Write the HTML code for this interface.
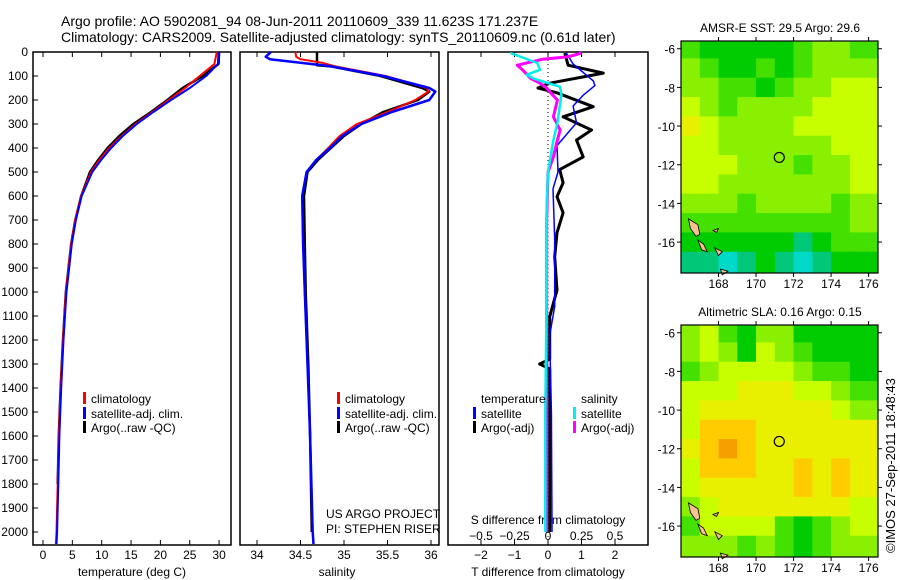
<!DOCTYPE html>
<html><head><meta charset="utf-8">
<style>
html,body{margin:0;padding:0;background:#fff;}
svg{display:block;font-family:"Liberation Sans",Arial,sans-serif;}
text{fill:#000;}
</style></head>
<body>
<svg id="chart" width="900" height="580" viewBox="0 0 900 580" xmlns="http://www.w3.org/2000/svg">
<text x="61" y="26" font-size="14">Argo profile: AO 5902081_94 08-Jun-2011 20110609_339 11.623S 171.237E</text>
<text x="61" y="42" font-size="14">Climatology: CARS2009. Satellite-adjusted climatology: synTS_20110609.nc (0.61d later)</text>
<g id="g1"></g>
<g id="g2"></g>
<g id="g3"></g>
<g id="m1"></g>
<g id="m2"></g>
<text font-size="13" transform="translate(895,553) rotate(-90)">©IMOS 27-Sep-2011 18:48:43</text>
</svg>
<script>
// ---- profile data (depth m) ----
const tDepth=[0,50,100,150,200,250,300,350,400,450,500,600,700,800,1000,1200,1400,1600,1800,2000,2050];
const tClim=[29.6,29.2,26.7,24.2,21.4,18.6,15.8,13.4,11.3,9.6,8.2,6.5,5.5,4.8,3.9,3.4,3.0,2.7,2.5,2.3,2.2];
const tSat=[29.9,29.8,27.8,25.0,21.8,18.8,16.0,13.6,11.6,9.9,8.4,6.6,5.6,4.9,4.0,3.5,3.1,2.8,2.6,2.4,2.3];
const tArgo=[30.0,29.9,27.2,23.8,21.2,18.4,15.4,13.0,11.0,9.4,8.0,6.5,5.5,4.8,3.9,3.4,3.0,2.7,2.5];
const sDepth=[0,20,30,45,55,60,100,150,165,200,250,300,350,400,450,500,600,800,1000,1300,1600,2000,2050];
const sClim=[34.44,34.45,34.5,34.75,34.85,34.9,35.48,35.95,35.97,35.82,35.5,35.15,34.95,34.82,34.68,34.57,34.52,34.53,34.55,34.58,34.61,34.64,34.65];
const sSat=[34.16,34.1,34.15,34.5,34.75,34.85,35.45,35.98,36.05,35.98,35.55,35.2,34.98,34.84,34.68,34.57,34.52,34.53,34.55,34.58,34.61,34.64,34.65];
const sArgo=[34.69,34.69,34.69,34.69,34.69,34.85,35.42,35.9,35.98,35.85,35.45,35.2,35.0,34.85,34.7,34.58,34.54,34.55,34.56,34.59,34.61,34.63];
// ---- difference data ----
const dDepthA=[4,55,88,130,150,170,228,270,325,367,437,490,545,603,670,753,853,992,1103,1200,1280,1300,1320,1500,1800,2000];
const dTArgo=[0.5,0.6,1.65,0.05,-0.3,0.27,1.35,0.45,1.3,0.85,1.05,0.35,0.45,0.27,0.45,0.27,0.2,0.27,0.05,0.05,0.05,-0.25,0.05,0.05,0.05,0.05];
const dDepthB=[4,50,120,140,180,225,295,390,500,570,780,1060,1180,1500,2000];
const dTSat=[0.55,0.75,1.35,1.4,1.05,0.75,0.85,0.27,0.3,0.15,0.2,0.2,0.05,0.1,0.12];
const dDepthC=[4,46,74,95,110,145,180,295,367,500,645,1000,1500,2000];
const dSSat=[-0.28,-0.08,-0.06,-0.16,-0.11,0.09,0.1,0.07,0.04,0,-0.01,-0.01,-0.02,-0.02];
const dDepthD=[4,20,30,55,74,110,130,150,170,200,270,325,367,437,500,700,1000,1500,2000];
const dSArgo=[0.25,0.15,-0.04,-0.23,-0.19,-0.13,-0.06,-0.01,0.02,0.07,0.04,0.09,0.07,0.04,0,-0.01,-0.01,-0.01,-0.01];
// ---- axis ticks ----
const depthTicks=[0,100,200,300,400,500,600,700,800,900,1000,1100,1200,1300,1400,1500,1600,1700,1800,1900,2000];
const tTicks=[0,5,10,15,20,25,30];
const sTicks=[34,34.5,35,35.5,36];
const sTickLabels=["34","34.5","35","35.5","36"];
const dtTicks=[-2,-1,0,1,2];
const dsTicks=[-0.5,-0.25,0,0.25,0.5];
const dsTickLabels=["−0.5","−0.25","0","0.25","0.5"];
// ---- map data (rows = 1 deg lat from -6 to -17, cols = 1 deg lon from 166 to 176) ----
const lonTicks=[168,170,172,174,176];
const latTicks=[-6,-8,-10,-12,-14,-16];
const sstGrid=[
[3,2,2,2,2,2,3,4,4,3],
[4,3,2,2,3,2,3,4,4,4],
[4,4,3,3,2,3,4,4,5,5],
[5,4,3,4,4,4,4,5,5,5],
[6,5,4,4,4,4,5,5,5,5],
[5,5,4,4,4,4,4,4,5,5],
[5,5,5,4,4,4,3,4,4,5],
[5,5,4,4,4,4,4,4,4,5],
[4,4,4,3,4,4,4,4,3,4],
[3,3,3,3,3,3,3,3,3,4],
[2,2,2,2,2,2,1,2,3,3],
[1,1,0,1,2,1,0,1,2,2]];
const slaGrid=[
[4,5,3,2,4,4,2,2,2,2],
[4,5,4,2,5,4,3,2,2,2],
[3,4,5,5,5,5,4,3,3,2],
[5,5,5,6,6,6,5,5,4,3],
[5,6,6,6,6,6,6,6,5,4],
[5,7,7,7,6,6,6,6,6,6],
[6,7,8,7,6,6,6,6,6,6],
[5,7,7,7,6,6,7,6,7,6],
[5,6,6,6,6,6,7,6,7,6],
[4,5,6,6,6,6,6,6,6,5],
[3,5,5,5,5,3,2,3,4,5],
[4,4,4,3,4,3,2,3,4,4]];
const palette=["#00d8c8","#00c878","#00cc00","#44e000","#88f000","#c8ff00","#e8f000","#ffcc00","#f5a000"];
const argoLon=171.237, argoLat=-11.623;

const NS="http://www.w3.org/2000/svg";
function mk(p,tag,at){const e=document.createElementNS(NS,tag);for(const k in at)e.setAttribute(k,at[k]);p.appendChild(e);return e;}
const Y0=52, Yk=0.24, YB=545;
const yD=d=>Y0+d*Yk;

function frame(g,x0,x1){const r=mk(g,'rect',{x:x0,y:Y0,width:x1-x0,height:YB-Y0,fill:'none',stroke:'#000','stroke-width':1.5});}
function line(g,xs,ds,xf,col,w,name){
  const pts=xs.map((v,i)=>xf(v).toFixed(1)+','+yD(ds[i]).toFixed(1)).join(' ');
  const p=mk(g,'polyline',{points:pts,fill:'none',stroke:col,'stroke-width':w,'stroke-linejoin':'round'});
  
  
}
function txt(g,x,y,s,fs,anchor){const t=mk(g,'text',{x:x,y:y,'font-size':fs,'text-anchor':anchor||'start'});t.textContent=s;return t;}
function legend(g,x,y,col,label){
  const r=mk(g,'rect',{x:x,y:y-11,width:3,height:12,fill:col});
  
  
  const t=txt(g,x+8,y,label,12);
  
  
}
// panel 1
const g1=document.getElementById('g1');
const xT=v=>43+v*5.87;
frame(g1,33,231);
depthTicks.forEach(d=>{mk(g1,'line',{x1:33,x2:38,y1:yD(d),y2:yD(d),stroke:'#000'});const t=txt(g1,28,yD(d)+4,String(d),12,'end');});
tTicks.forEach(v=>{mk(g1,'line',{x1:xT(v),x2:xT(v),y1:YB,y2:YB-5,stroke:'#000'});mk(g1,'line',{x1:xT(v),x2:xT(v),y1:Y0,y2:Y0+5,stroke:'#000'});const t=txt(g1,xT(v),559,String(v),12,'middle');});
txt(g1,132,576,'temperature (deg C)',12,'middle');
line(g1,tArgo,tDepth,xT,'#000',2.5,'temperature-argo-line');
line(g1,tClim,tDepth,xT,'#f00',2,'temperature-climatology-line');
line(g1,tSat,tDepth,xT,'#00f',2,'temperature-satellite-line');
legend(g1,83,403,'#f00','climatology');legend(g1,83,418,'#00f','satellite-adj. clim.');legend(g1,83,432,'#000','Argo(..raw -QC)');
// panel 2
const g2=document.getElementById('g2');
const xS=v=>257+(v-34)*87;
frame(g2,240,439);
sTicks.forEach((v,i)=>{mk(g2,'line',{x1:xS(v),x2:xS(v),y1:YB,y2:YB-5,stroke:'#000'});mk(g2,'line',{x1:xS(v),x2:xS(v),y1:Y0,y2:Y0+5,stroke:'#000'});const t=txt(g2,xS(v),559,sTickLabels[i],12,'middle');});
txt(g2,337,576,'salinity',12,'middle');
line(g2,sArgo,sDepth.slice(0,sArgo.length),xS,'#000',2.5,'salinity-argo-line');
line(g2,sClim,sDepth,xS,'#f00',2,'salinity-climatology-line');
line(g2,sSat,sDepth,xS,'#00f',2.5,'salinity-satellite-line');
legend(g2,337,403,'#f00','climatology');legend(g2,337,418,'#00f','satellite-adj. clim.');legend(g2,337,432,'#000','Argo(..raw -QC)');
txt(g2,326,518,'US ARGO PROJECT',12);
txt(g2,326,533,'PI: STEPHEN RISER',12);
// panel 3
const g3=document.getElementById('g3');
const xDT=v=>548+v*33.5, xDS=v=>548+v*134;
frame(g3,448,648);
mk(g3,'line',{x1:548,x2:548,y1:Y0,y2:YB,stroke:'#000','stroke-dasharray':'1,3'});
dtTicks.forEach(v=>{mk(g3,'line',{x1:xDT(v),x2:xDT(v),y1:YB,y2:YB-5,stroke:'#000'});const t=txt(g3,xDT(v),559,String(v).replace('-','−'),12,'middle');});
dsTicks.forEach((v,i)=>{mk(g3,'line',{x1:xDS(v),x2:xDS(v),y1:Y0,y2:Y0+5,stroke:'#000'});const t=txt(g3,xDS(v),540,dsTickLabels[i],12,'middle');});
txt(g3,548,576,'T difference from climatology',12,'middle');
txt(g3,548,524,'S difference from climatology',12,'middle');
line(g3,dTArgo,dDepthA,xDT,'#000',3,'t-diff-argo-line');
line(g3,dTSat,dDepthB,xDT,'#00f',1.5,'t-diff-satellite-line');
line(g3,dSArgo,dDepthD,xDS,'#f0f',3,'s-diff-argo-line');
line(g3,dSSat,dDepthC,xDS,'#0ee',2.5,'s-diff-satellite-line');
txt(g3,481,403,'temperature',12);txt(g3,581,403,'salinity',12);
legend(g3,473,418,'#00f','satellite');legend(g3,473,432,'#000','Argo(-adj)');
legend(g3,573,418,'#0ee','satellite');legend(g3,573,432,'#f0f','Argo(-adj)');
// maps
function map(id,top,grid,title){
  const g=document.getElementById(id);
  const L=681,R=878,H=232,lon0=166.0,lon1=176.5,lat0=-5.6,lat1=-17.6;
  const xL=v=>L+(v-lon0)/(lon1-lon0)*(R-L);
  const yL=v=>top+(v-lat0)/(lat1-lat0)*H;
  grid.forEach((row,r)=>row.forEach((v,c)=>{
    const x0=xL(166+c), x1=c==row.length-1?R:xL(167+c);
    const y0=r==0?top:yL(-5.5-r), y1=r==grid.length-1?top+H:yL(-6.5-r);
    const e=mk(g,'rect',{x:x0,y:y0,width:x1-x0+0.5,height:y1-y0+0.5,fill:palette[v]});
    
    
  }));
  // islands (Vanuatu)
  const isl=[[[166.4,-14.8],[166.9,-15.1],[167.0,-15.6],[166.8,-15.7],[166.5,-15.3]],[[166.9,-15.9],[167.2,-16.1],[167.4,-16.5],[167.1,-16.4]],[[167.8,-16.3],[168.2,-16.5],[168.0,-16.7]],[[168.1,-17.4],[168.5,-17.5],[168.2,-17.7]],[[167.7,-15.4],[168.0,-15.3],[167.9,-15.5]]];
  isl.forEach(p=>{const e=mk(g,'polygon',{points:p.map(q=>xL(q[0]).toFixed(1)+','+yL(q[1]).toFixed(1)).join(' '),fill:'#f8c090',stroke:'#000','stroke-width':0.8});});
  mk(g,'rect',{x:L,y:top,width:R-L,height:H,fill:'none',stroke:'#000','stroke-width':1.2});
  const c=mk(g,'circle',{cx:xL(argoLon),cy:yL(argoLat),r:5,fill:'none',stroke:'#000','stroke-width':1.2});
  
  
  lonTicks.forEach(v=>{mk(g,'line',{x1:xL(v),x2:xL(v),y1:top+H,y2:top+H+4,stroke:'#000'});mk(g,'line',{x1:xL(v),x2:xL(v),y1:top,y2:top-4,stroke:'#000'});const t=txt(g,xL(v),top+H+15,String(v),12,'middle');});
  latTicks.forEach(v=>{mk(g,'line',{x1:L,x2:L-4,y1:yL(v),y2:yL(v),stroke:'#000'});mk(g,'line',{x1:R,x2:R+4,y1:yL(v),y2:yL(v),stroke:'#000'});const t=txt(g,L-6,yL(v)+5,String(v),12,'end');});
  const t=txt(g,780,top-9,title,12,'middle');
}
map('m1',41,sstGrid,'AMSR-E SST: 29.5 Argo: 29.6');
map('m2',325,slaGrid,'Altimetric SLA: 0.16 Argo: 0.15');
</script>
</body></html>
